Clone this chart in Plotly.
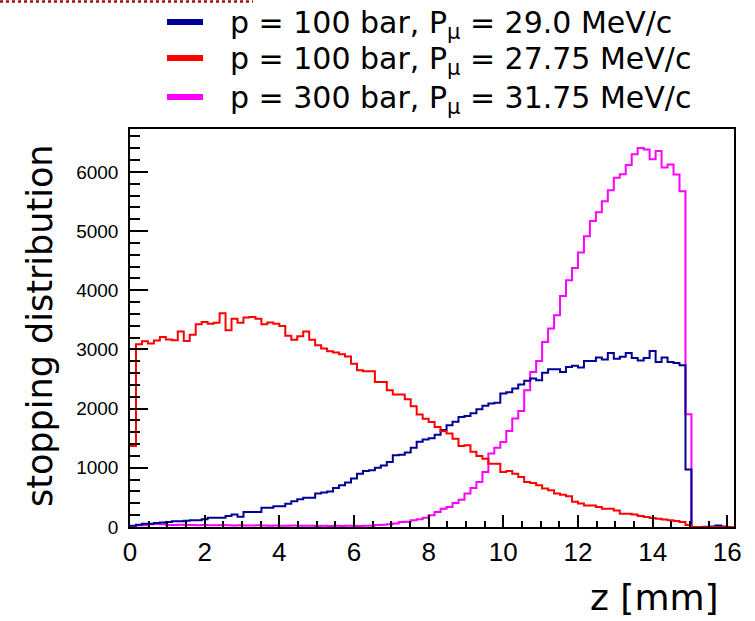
import plotly.graph_objects as go

# Stopping-position histograms along z (bin width 0.16 mm)
bin_width = 0.16
n_bins = 101

blue_counts = [20, 40, 57, 57, 68, 75, 85, 96, 96, 105,
               113, 113, 130, 158, 158, 158, 186, 210, 175, 254,
               254, 254, 327, 327, 350, 350, 394, 434, 468, 496,
               496, 564, 585, 600, 660, 705, 750, 820, 900, 946,
               960, 1000, 1040, 1100, 1212, 1220, 1260, 1340, 1440, 1480,
               1500, 1560, 1640, 1720, 1780, 1860, 1875, 1920, 1990, 2050,
               2085, 2100, 2255, 2275, 2340, 2410, 2470, 2510, 2480, 2605,
               2665, 2665, 2620, 2705, 2725, 2695, 2805, 2805, 2865, 2830,
               2940, 2845, 2875, 2940, 2855, 2815, 2855, 2975, 2790, 2865,
               2790, 2770, 2735, 970, 0, 0, 5, 10, 25, 10,
               0]

red_counts = [1370, 3090, 3140, 3100, 3150, 3210, 3170, 3155, 3305, 3145,
              3250, 3425, 3465, 3435, 3450, 3610, 3325, 3520, 3450, 3540,
              3550, 3520, 3425, 3455, 3435, 3395, 3230, 3165, 3225, 3305,
              3165, 3070, 3015, 2970, 2950, 2920, 2880, 2760, 2650, 2630,
              2630, 2450, 2450, 2310, 2240, 2240, 2160, 2040, 1900, 1830,
              1775, 1690, 1620, 1580, 1490, 1370, 1380, 1270, 1200, 1155,
              1070, 1070, 930, 945, 900, 845, 760, 745, 705, 650,
              620, 565, 545, 520, 425, 395, 365, 365, 340, 310,
              310, 280, 225, 225, 210, 185, 170, 150, 140, 125,
              115, 100, 85, 35, 0, 0, 0, 0, 0, 0,
              0]

magenta_counts = [10, 30, 30, 45, 50, 45, 35, 35, 40, 35,
                  35, 30, 35, 30, 30, 35, 30, 25, 30, 25,
                  25, 30, 25, 20, 25, 20, 20, 25, 20, 20,
                  20, 15, 20, 15, 20, 15, 20, 20, 15, 20,
                  20, 35, 40, 45, 60, 85, 90, 113, 130, 158,
                  197, 254, 310, 338, 406, 462, 564, 660, 761, 930,
                  1240, 1340, 1437, 1622, 1832, 1960, 2310, 2620, 2805, 3125,
                  3355, 3580, 3905, 4170, 4375, 4640, 4915, 5170, 5320, 5505,
                  5690, 5900, 5960, 6115, 6300, 6405, 6380, 6215, 6355, 6075,
                  6125, 5955, 5675, 1905, 0, 0, 0, 0, 0, 0,
                  0]

series_labels = [
    "p = 100 bar, P<sub>μ</sub> = 29.0 MeV/c",
    "p = 100 bar, P<sub>μ</sub> = 27.75 MeV/c",
    "p = 300 bar, P<sub>μ</sub> = 31.75 MeV/c",
]
series_colors = ["#000099", "#ff0000", "#ff00ff"]

x_ticks = [0, 2, 4, 6, 8, 10, 12, 14, 16]
y_ticks = [0, 1000, 2000, 3000, 4000, 5000, 6000]

W, H = 755, 621
ML, MR, MT, MB = 130, 21, 129, 94
PW, PH = W - ML - MR, H - MT - MB


def px_x(px):
    return (px - ML) / PW


def px_y(py):
    return (H - MB - py) / PH


def step_xy(counts):
    edges = [i * bin_width for i in range(n_bins + 1)]
    return edges, list(counts) + [counts[-1]]


fig = go.Figure()
# draw order: magenta underneath, then blue, then red
for counts, color in [(magenta_counts, series_colors[2]),
                      (blue_counts, series_colors[0]),
                      (red_counts, series_colors[1])]:
    xs, ys = step_xy(counts)
    fig.add_trace(go.Scatter(x=xs, y=ys, mode="lines",
                             line=dict(shape="hv", color=color, width=2),
                             showlegend=False, hoverinfo="skip"))

y_max = max(magenta_counts) * 1.05

fig.update_xaxes(range=[0, 16.18], showline=True, linecolor="black", linewidth=1.5,
                 mirror=True, showgrid=False, zeroline=False,
                 tickvals=x_ticks, ticktext=[str(v) for v in x_ticks],
                 ticks="inside", ticklen=12, tickwidth=1.5, tickcolor="black",
                 minor=dict(dtick=0.5, tick0=0, ticks="inside", ticklen=6,
                            tickwidth=1.5, tickcolor="black"),
                 tickfont=dict(family="Liberation Sans", size=26, color="black"),
                 ticklabelstandoff=1)
fig.update_yaxes(range=[0, y_max], showline=True, linecolor="black", linewidth=1.5,
                 mirror=True, showgrid=False, zeroline=False,
                 tickvals=y_ticks, ticktext=[str(v) for v in y_ticks],
                 ticks="inside", ticklen=18, tickwidth=1.5, tickcolor="black",
                 minor=dict(dtick=200, tick0=0, ticks="inside", ticklen=10,
                            tickwidth=1.5, tickcolor="black"),
                 tickfont=dict(family="Liberation Sans", size=19, color="black"),
                 ticklabelstandoff=6)

shapes = []
annotations = []

# dotted rule along the top edge
shapes.append(dict(type="line", xref="paper", yref="paper",
                   x0=px_x(0), x1=px_x(253), y0=px_y(1.5), y1=px_y(1.5),
                   line=dict(color="#a01010", width=2.5, dash="dot")))

# legend entries
for label, color, yc in zip(series_labels, series_colors, [22, 58, 97]):
    shapes.append(dict(type="line", xref="paper", yref="paper",
                       x0=px_x(167), x1=px_x(203), y0=px_y(yc), y1=px_y(yc),
                       line=dict(color=color, width=6)))
    annotations.append(dict(text=label, xref="paper", yref="paper",
                            x=px_x(228), y=px_y(yc + 3), xanchor="left", yanchor="middle",
                            showarrow=False,
                            font=dict(family="DejaVu Sans", size=30, color="black")))

# axis titles
annotations.append(dict(text="stopping distribution", xref="paper", yref="paper",
                        x=px_x(40), y=px_y(326), textangle=-90,
                        xanchor="center", yanchor="middle", showarrow=False,
                        font=dict(family="DejaVu Sans", size=35, color="black")))
annotations.append(dict(text="z [mm]", xref="paper", yref="paper",
                        x=px_x(721), y=px_y(597), xanchor="right", yanchor="middle",
                        showarrow=False,
                        font=dict(family="DejaVu Sans", size=36, color="black")))

fig.update_layout(width=W, height=H, margin=dict(l=ML, r=MR, t=MT, b=MB),
                  paper_bgcolor="white", plot_bgcolor="white",
                  shapes=shapes, annotations=annotations, showlegend=False)

fig.write_html("out.html")
